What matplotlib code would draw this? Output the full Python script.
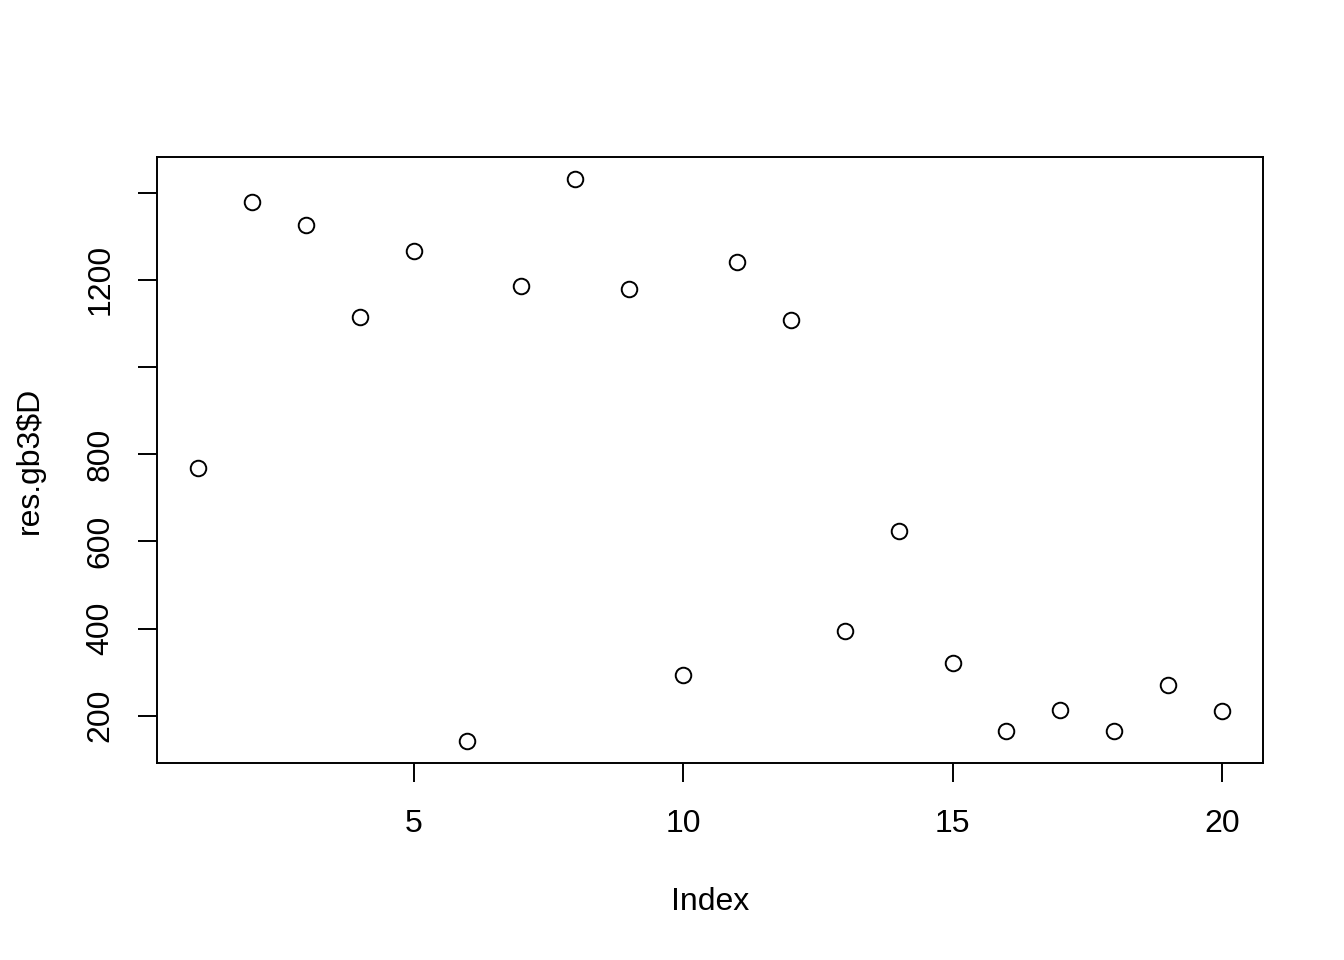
import matplotlib
matplotlib.use("Agg")
import matplotlib.pyplot as plt

index = list(range(1, 21))
values = [768, 1378, 1325, 1114, 1265, 143, 1185, 1430, 1178, 294,
          1240, 1107, 395, 624, 321, 166, 214, 166, 271, 211]
xticks = [5, 10, 15, 20]
xticklabels = ["5", "10", "15", "20"]
yticks = [200, 400, 600, 800, 1000, 1200, 1400]
yticklabels = ["200", "400", "600", "800", "", "1200", ""]

plt.rcParams['font.family'] = ['Liberation Sans', 'DejaVu Sans']
fig = plt.figure(figsize=(13.44, 9.6), dpi=100)
ax = fig.add_axes([157/1344, 1-763/960, (1263-157)/1344, (763-157)/960])
ax.plot(index, values, linestyle='none', marker='o', markersize=11.2,
        markerfacecolor='none', markeredgecolor='black', markeredgewidth=1.4)

xmin, xmax = min(index), max(index)
dx = (xmax - xmin) * 0.04
ax.set_xlim(xmin - dx, xmax + dx)
ymin, ymax = min(values), max(values)
dy = (ymax - ymin) * 0.04
ax.set_ylim(ymin - dy, ymax + dy)

ax.set_xticks(xticks)
ax.set_xticklabels(xticklabels)
ax.set_yticks(yticks)
ax.set_yticklabels(yticklabels, rotation=90, va='center')
ax.tick_params(axis='both', length=14, width=1.4, labelsize=23, direction='out')
ax.tick_params(axis='x', pad=19)
ax.tick_params(axis='y', pad=16)
for s in ax.spines.values():
    s.set_linewidth(1.4)

ax.set_xlabel("Index", fontsize=23, labelpad=35)
ax.set_ylabel("res.gb3$D", fontsize=23, labelpad=29)

fig.savefig("out.png", dpi=100)
